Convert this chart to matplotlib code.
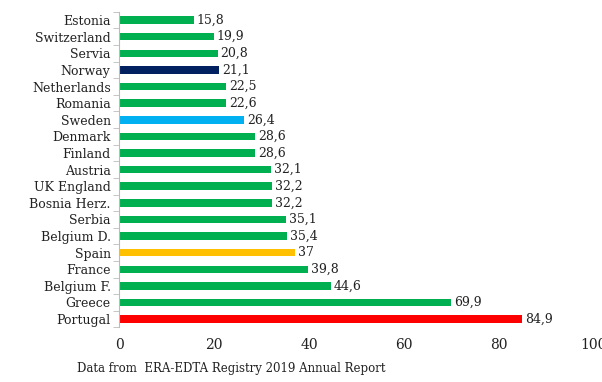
import matplotlib
matplotlib.use("Agg")
import matplotlib.pyplot as plt

countries = ["Estonia", "Switzerland", "Servia", "Norway", "Netherlands", "Romania",
             "Sweden", "Denmark", "Finland", "Austria", "UK England", "Bosnia Herz.",
             "Serbia", "Belgium D.", "Spain", "France", "Belgium F.", "Greece", "Portugal"]
values = [15.8, 19.9, 20.8, 21.1, 22.5, 22.6, 26.4, 28.6, 28.6, 32.1, 32.2, 32.2,
          35.1, 35.4, 37, 39.8, 44.6, 69.9, 84.9]
labels = ["15,8", "19,9", "20,8", "21,1", "22,5", "22,6", "26,4", "28,6", "28,6", "32,1",
          "32,2", "32,2", "35,1", "35,4", "37", "39,8", "44,6", "69,9", "84,9"]
highlight = {"Norway": "#002060", "Sweden": "#00B0F0", "Spain": "#FFC000", "Portugal": "#FF0000"}
default_color = "#00B050"
xticks = [0, 20, 40, 60, 80, 100]
footnote = "Data from  ERA-EDTA Registry 2019 Annual Report"

plt.rcParams["font.family"] = ["DejaVu Serif"]

fig = plt.figure(figsize=(6.02, 3.82), dpi=100)
ax = fig.add_axes([0.1977, 0.143, 0.789, 0.826])

colors = [highlight.get(c, default_color) for c in countries]
pos = list(range(len(countries)))
ax.barh(pos, values, height=0.45, color=colors)
for p, v, l in zip(pos, values, labels):
    ax.text(v + 0.6, p, l, va="center", ha="left", fontsize=9, color="#222222")

ax.set_ylim(len(countries) - 0.5, -0.5)
ax.set_xlim(0, 100)
ax.set_yticks(pos)
ax.set_yticklabels(countries, fontsize=9, color="#222222")
ax.tick_params(axis="y", length=0, pad=6)
ax.set_yticks([p + 0.5 for p in range(-1, len(countries))], minor=True)
ax.tick_params(axis="y", which="minor", length=4, color="#bbbbbb")
ax.set_xticks(xticks)
ax.set_xticklabels([str(t) for t in xticks], fontsize=10, color="#222222")
ax.tick_params(axis="x", length=0, pad=8)

for s in ["top", "right", "bottom"]:
    ax.spines[s].set_visible(False)
ax.spines["left"].set_color("#bbbbbb")

fig.text(0.128, 0.025, footnote, fontsize=8.5, color="#222222")

fig.savefig("out.png", dpi=100)
